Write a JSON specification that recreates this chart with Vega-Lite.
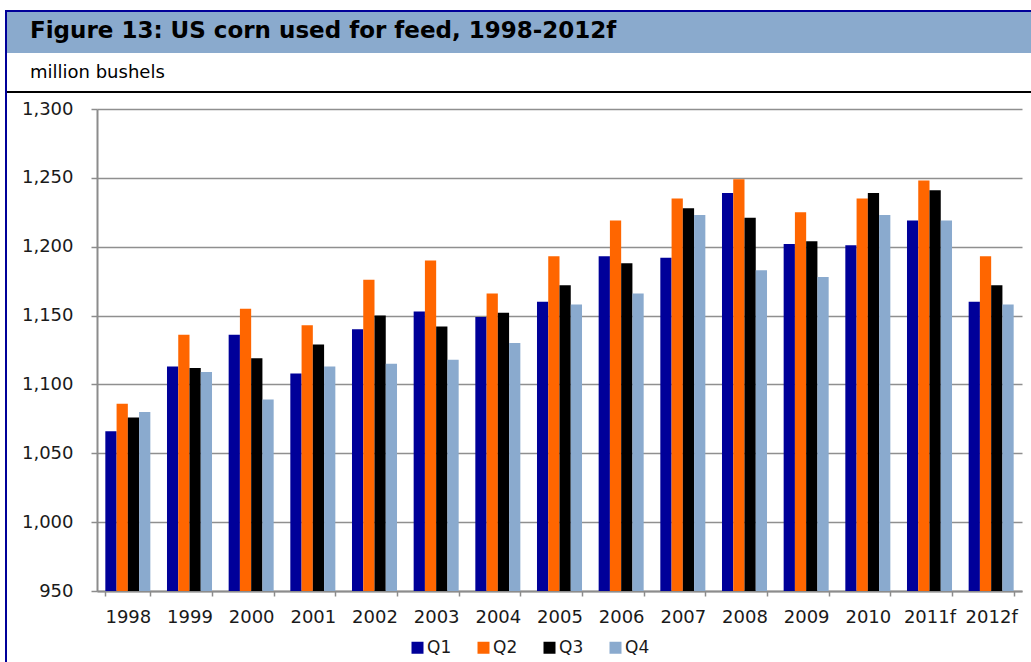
{
  "$schema": "https://vega.github.io/schema/vega-lite/v6.json",
  "background": "white",
  "padding": {"left": 5, "top": 10, "right": 0, "bottom": 0},
  "spacing": 0,
  "config": {
    "font": "DejaVu Sans",
    "view": {"stroke": null},
    "concat": {"spacing": 0}
  },
  "datasets": {
    "feed": [
      {"year": "1998", "quarter": "Q1", "value": 1066}, {"year": "1998", "quarter": "Q2", "value": 1086}, {"year": "1998", "quarter": "Q3", "value": 1076}, {"year": "1998", "quarter": "Q4", "value": 1080},
      {"year": "1999", "quarter": "Q1", "value": 1113}, {"year": "1999", "quarter": "Q2", "value": 1136}, {"year": "1999", "quarter": "Q3", "value": 1112}, {"year": "1999", "quarter": "Q4", "value": 1109},
      {"year": "2000", "quarter": "Q1", "value": 1136}, {"year": "2000", "quarter": "Q2", "value": 1155}, {"year": "2000", "quarter": "Q3", "value": 1119}, {"year": "2000", "quarter": "Q4", "value": 1089},
      {"year": "2001", "quarter": "Q1", "value": 1108}, {"year": "2001", "quarter": "Q2", "value": 1143}, {"year": "2001", "quarter": "Q3", "value": 1129}, {"year": "2001", "quarter": "Q4", "value": 1113},
      {"year": "2002", "quarter": "Q1", "value": 1140}, {"year": "2002", "quarter": "Q2", "value": 1176}, {"year": "2002", "quarter": "Q3", "value": 1150}, {"year": "2002", "quarter": "Q4", "value": 1115},
      {"year": "2003", "quarter": "Q1", "value": 1153}, {"year": "2003", "quarter": "Q2", "value": 1190}, {"year": "2003", "quarter": "Q3", "value": 1142}, {"year": "2003", "quarter": "Q4", "value": 1118},
      {"year": "2004", "quarter": "Q1", "value": 1149}, {"year": "2004", "quarter": "Q2", "value": 1166}, {"year": "2004", "quarter": "Q3", "value": 1152}, {"year": "2004", "quarter": "Q4", "value": 1130},
      {"year": "2005", "quarter": "Q1", "value": 1160}, {"year": "2005", "quarter": "Q2", "value": 1193}, {"year": "2005", "quarter": "Q3", "value": 1172}, {"year": "2005", "quarter": "Q4", "value": 1158},
      {"year": "2006", "quarter": "Q1", "value": 1193}, {"year": "2006", "quarter": "Q2", "value": 1219}, {"year": "2006", "quarter": "Q3", "value": 1188}, {"year": "2006", "quarter": "Q4", "value": 1166},
      {"year": "2007", "quarter": "Q1", "value": 1192}, {"year": "2007", "quarter": "Q2", "value": 1235}, {"year": "2007", "quarter": "Q3", "value": 1228}, {"year": "2007", "quarter": "Q4", "value": 1223},
      {"year": "2008", "quarter": "Q1", "value": 1239}, {"year": "2008", "quarter": "Q2", "value": 1249}, {"year": "2008", "quarter": "Q3", "value": 1221}, {"year": "2008", "quarter": "Q4", "value": 1183},
      {"year": "2009", "quarter": "Q1", "value": 1202}, {"year": "2009", "quarter": "Q2", "value": 1225}, {"year": "2009", "quarter": "Q3", "value": 1204}, {"year": "2009", "quarter": "Q4", "value": 1178},
      {"year": "2010", "quarter": "Q1", "value": 1201}, {"year": "2010", "quarter": "Q2", "value": 1235}, {"year": "2010", "quarter": "Q3", "value": 1239}, {"year": "2010", "quarter": "Q4", "value": 1223},
      {"year": "2011f", "quarter": "Q1", "value": 1219}, {"year": "2011f", "quarter": "Q2", "value": 1248}, {"year": "2011f", "quarter": "Q3", "value": 1241}, {"year": "2011f", "quarter": "Q4", "value": 1219},
      {"year": "2012f", "quarter": "Q1", "value": 1160}, {"year": "2012f", "quarter": "Q2", "value": 1193}, {"year": "2012f", "quarter": "Q3", "value": 1172}, {"year": "2012f", "quarter": "Q4", "value": 1158}
    ]
  },
  "hconcat": [
    {
      "width": 2,
      "height": 652,
      "view": {"fill": "#000099", "stroke": null},
      "data": {"values": [{}]},
      "mark": {"type": "rect", "color": "#000099"}
    },
    {
      "vconcat": [
        {
          "width": 1026,
          "height": 2,
          "view": {"fill": "#000099", "stroke": null},
          "data": {"values": [{}]},
          "mark": {"type": "rect", "color": "#000099"}
        },
        {
          "width": 1026,
          "height": 41,
          "view": {"fill": "#8AAACD", "stroke": null},
          "title": {
            "text": "Figure 13: US corn used for feed, 1998-2012f",
            "anchor": "start",
            "frame": "group",
            "orient": "top",
            "offset": -31,
            "dx": 23,
            "fontSize": 23,
            "fontWeight": "bold",
            "color": "#000000"
          },
          "data": {"values": [{}]},
          "mark": {"type": "rect", "color": "#8AAACD"}
        },
        {
          "width": 1026,
          "height": 38,
          "view": {"fill": "#ffffff", "stroke": null},
          "title": {
            "text": "million bushels",
            "anchor": "start",
            "frame": "group",
            "orient": "top",
            "offset": -29,
            "dx": 23,
            "fontSize": 18,
            "fontWeight": "normal",
            "color": "#000000"
          },
          "data": {"values": [{}]},
          "mark": {"type": "rect", "color": "#ffffff"}
        },
        {
          "width": 1026,
          "height": 2,
          "view": {"fill": "#000000", "stroke": null},
          "data": {"values": [{}]},
          "mark": {"type": "rect", "color": "#000000"}
        },
        {
          "width": 1026,
          "height": 7,
          "view": {"fill": "#ffffff", "stroke": null},
          "data": {"values": [{}]},
          "mark": {"type": "rect", "color": "#ffffff"}
        },
        {
          "bounds": "flush",
          "spacing": 0,
          "hconcat": [
            {
              "width": 90,
              "height": 482,
              "view": {"fill": "#ffffff", "stroke": null},
              "data": {"values": [{}]},
              "mark": {"type": "rect", "color": "#ffffff"}
            },
            {
              "width": 925,
              "height": 482,
              "data": {"name": "feed"},
              "mark": {"type": "bar"},
              "encoding": {
                "x": {
                  "field": "year",
                  "type": "ordinal",
                  "sort": null,
                  "scale": {"paddingInner": 0.27, "paddingOuter": 0.135},
                  "axis": {
                    "title": null,
                    "labelAngle": 0,
                    "labelFontSize": 18,
                    "labelColor": "#1a1a1a",
                    "labelPadding": 12,
                    "tickBand": "extent",
                    "tickSize": 5,
                    "tickColor": "#8c8c8c",
                    "tickWidth": 1.5,
                    "domainColor": "#8c8c8c",
                    "domainWidth": 2
                  }
                },
                "xOffset": {"field": "quarter", "type": "nominal", "sort": ["Q1", "Q2", "Q3", "Q4"]},
                "y": {
                  "field": "value",
                  "type": "quantitative",
                  "scale": {"domain": [950, 1300], "zero": false, "nice": false},
                  "axis": {
                    "title": null,
                    "values": [950, 1000, 1050, 1100, 1150, 1200, 1250, 1300],
                    "format": ",.0f",
                    "labelFontSize": 18,
                    "labelColor": "#1a1a1a",
                    "labelPadding": 18,
                    "tickSize": 6,
                    "tickColor": "#8c8c8c",
                    "tickWidth": 1.5,
                    "domainColor": "#8c8c8c",
                    "domainWidth": 2,
                    "grid": true,
                    "gridColor": "#8f8f8f",
                    "gridWidth": 1.6
                  }
                },
                "y2": {"datum": 950},
                "color": {
                  "field": "quarter",
                  "type": "nominal",
                  "scale": {"domain": ["Q1", "Q2", "Q3", "Q4"], "range": ["#000099", "#FF6600", "#000000", "#8AAACE"]},
                  "legend": {
                    "title": null,
                    "orient": "none",
                    "direction": "horizontal",
                    "legendX": 404,
                    "legendY": 629,
                    "symbolType": "square",
                    "symbolSize": 144,
                    "symbolStrokeWidth": 0,
                    "symbolOpacity": 1,
                    "labelFontSize": 17,
                    "labelColor": "#1a1a1a",
                    "labelOffset": 1,
                    "columnPadding": 23,
                    "padding": 0
                  }
                }
              }
            }
          ]
        }
      ]
    }
  ]
}
